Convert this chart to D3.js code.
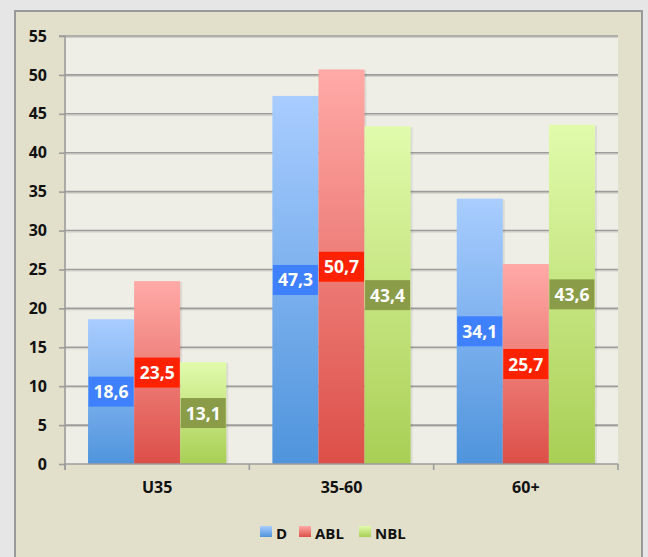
<!DOCTYPE html>
<html>
<head>
<meta charset="utf-8">
<script src="https://cdn.jsdelivr.net/npm/d3@7"></script>
<style>
  html, body { margin: 0; padding: 0; background: #e6e6e6; }
  svg { display: block; font-family: "Open Sans", Lato, sans-serif; }
</style>
</head>
<body>
<svg id="chart" width="648" height="557"></svg>
<script>
// Age groups and the three series shown for each
const categories = ["U35", "35-60", "60+"];
const seriesNames = ["D", "ABL", "NBL"];
const valuesD   = [18.6, 47.3, 34.1];
const valuesABL = [23.5, 50.7, 25.7];
const valuesNBL = [13.1, 43.4, 43.6];
const yTicks = [0, 5, 10, 15, 20, 25, 30, 35, 40, 45, 50, 55];

const seriesValues = [valuesD, valuesABL, valuesNBL];
const colors = {
  D:   { top: "#a9cdff", bottom: "#4f94dc", label: "#3f80ff" },
  ABL: { top: "#ffaaa7", bottom: "#dc4f48", label: "#ff2200" },
  NBL: { top: "#e1fbac", bottom: "#a9cf55", label: "#8a9c48" }
};
const FONT = "'Open Sans', Lato, sans-serif";

const svg = d3.select("#chart");
const defs = svg.append("defs");

seriesNames.forEach(s => {
  const g = defs.append("linearGradient")
    .attr("id", "grad-" + s).attr("x1", 0).attr("y1", 0).attr("x2", 0).attr("y2", 1);
  g.append("stop").attr("offset", "0%").attr("stop-color", colors[s].top);
  g.append("stop").attr("offset", "100%").attr("stop-color", colors[s].bottom);
});

// Outer frame
svg.append("rect")
  .attr("x", 15).attr("y", 11).attr("width", 627).attr("height", 560)
  .attr("fill", "#e2dfcb").attr("stroke", "#9a9a9a").attr("stroke-width", 2);

const plot = { left: 65, right: 618, top: 36, bottom: 464 };

svg.append("rect")
  .attr("x", plot.left).attr("y", plot.top)
  .attr("width", plot.right - plot.left).attr("height", plot.bottom - plot.top)
  .attr("fill", "#efeee6");

const y = d3.scaleLinear().domain([0, 55]).range([plot.bottom, plot.top]);
const x0 = d3.scaleBand().domain(categories).range([plot.left, plot.right]).paddingInner(0).paddingOuter(0);
// each group of three bars fills the middle three quarters of its band
const x1 = d3.scaleBand().domain(seriesNames)
  .range([x0.bandwidth() * 0.125, x0.bandwidth() * 0.875]).paddingInner(0).paddingOuter(0);

// Gridlines with a soft shadow under each
const grid = svg.append("g");
yTicks.filter(t => t > 0).forEach(t => {
  grid.append("line")
    .attr("x1", plot.left).attr("x2", plot.right)
    .attr("y1", y(t) + 1.5).attr("y2", y(t) + 1.5)
    .attr("stroke", "#cfcec6").attr("stroke-width", 1);
  grid.append("line")
    .attr("x1", plot.left).attr("x2", plot.right)
    .attr("y1", y(t)).attr("y2", y(t))
    .attr("stroke", "#9c9c9c").attr("stroke-width", 1.6);
});

// Bars
const groups = svg.append("g").selectAll("g")
  .data(categories).join("g")
  .attr("transform", d => `translate(${x0(d)},0)`);

groups.each(function(cat, ci) {
  const g = d3.select(this);
  seriesNames.forEach((s, si) => {
    const v = seriesValues[si][ci];
    g.append("rect")
      .attr("x", x1(s) + 2).attr("y", y(v) + 1)
      .attr("width", x1.bandwidth()).attr("height", y(0) - y(v) - 1)
      .attr("fill", "#000").attr("opacity", 0.08);
  });
  seriesNames.forEach((s, si) => {
    const v = seriesValues[si][ci];
    g.append("rect")
      .attr("x", x1(s)).attr("y", y(v))
      .attr("width", x1.bandwidth()).attr("height", y(0) - y(v))
      .attr("fill", `url(#grad-${s})`);
  });
});

// Axes
const yAxis = d3.axisLeft(y).tickValues(yTicks).tickSize(6).tickPadding(12).tickFormat(d3.format("d"));
const yG = svg.append("g").attr("transform", `translate(${plot.left},0)`).call(yAxis);
yG.select(".domain").attr("stroke", "#9c9c9c").attr("stroke-width", 1.6)
  .attr("d", `M-6,${plot.top}H0V${plot.bottom + 6}`);
yG.selectAll(".tick line").attr("stroke", "#9c9c9c").attr("stroke-width", 1.6);
yG.selectAll(".tick text").attr("font-size", 16).attr("font-weight", 700)
  .attr("fill", "#111").attr("font-family", FONT);

const xAxis = d3.axisBottom(x0).tickSize(0).tickPadding(18);
const xG = svg.append("g").attr("transform", `translate(0,${plot.bottom})`).call(xAxis);
xG.select(".domain").attr("stroke", "#9c9c9c").attr("stroke-width", 1.6)
  .attr("d", `M${plot.left},0H${plot.right}`);
xG.selectAll(".tick text").attr("font-size", 16).attr("font-weight", 700)
  .attr("fill", "#111").attr("font-family", FONT);
// category separator ticks
const bounds = categories.map(c => x0(c)).concat([x0(categories[categories.length - 1]) + x0.bandwidth()]);
xG.selectAll(".sep").data(bounds).join("line")
  .attr("class", "sep")
  .attr("x1", d => d).attr("x2", d => d).attr("y1", 0).attr("y2", 6)
  .attr("stroke", "#9c9c9c").attr("stroke-width", 1.6);

// Value labels centred on each bar
groups.each(function(cat, ci) {
  const g = d3.select(this);
  seriesNames.forEach((s, si) => {
    const v = seriesValues[si][ci];
    const cx = x1(s) + x1.bandwidth() / 2;
    const cy = (y(v) + y(0)) / 2;
    const txt = d3.format(".1f")(v).replace(".", ",");
    const t = g.append("text")
      .attr("x", cx).attr("y", cy + 6.5)
      .attr("text-anchor", "middle")
      .attr("font-size", 17.5).attr("font-weight", 700).attr("fill", "#fff")
      .text(txt);
    const w = Math.max(t.node().getComputedTextLength() + 10, 45);
    g.insert("rect", () => t.node())
      .attr("x", cx - w / 2).attr("y", cy - 15)
      .attr("width", w).attr("height", 30)
      .attr("fill", colors[s].label);
  });
});

// Legend
const legendItems = [
  { name: "D", x: 260 },
  { name: "ABL", x: 299 },
  { name: "NBL", x: 359 }
];
const legend = svg.append("g");
legendItems.forEach(item => {
  legend.append("rect")
    .attr("x", item.x).attr("y", 526).attr("width", 12).attr("height", 11)
    .attr("fill", `url(#grad-${item.name})`);
  legend.append("text")
    .attr("x", item.x + 16).attr("y", 539)
    .attr("font-size", 15).attr("font-weight", 700).attr("fill", "#111")
    .text(item.name);
});
</script>
</body>
</html>
